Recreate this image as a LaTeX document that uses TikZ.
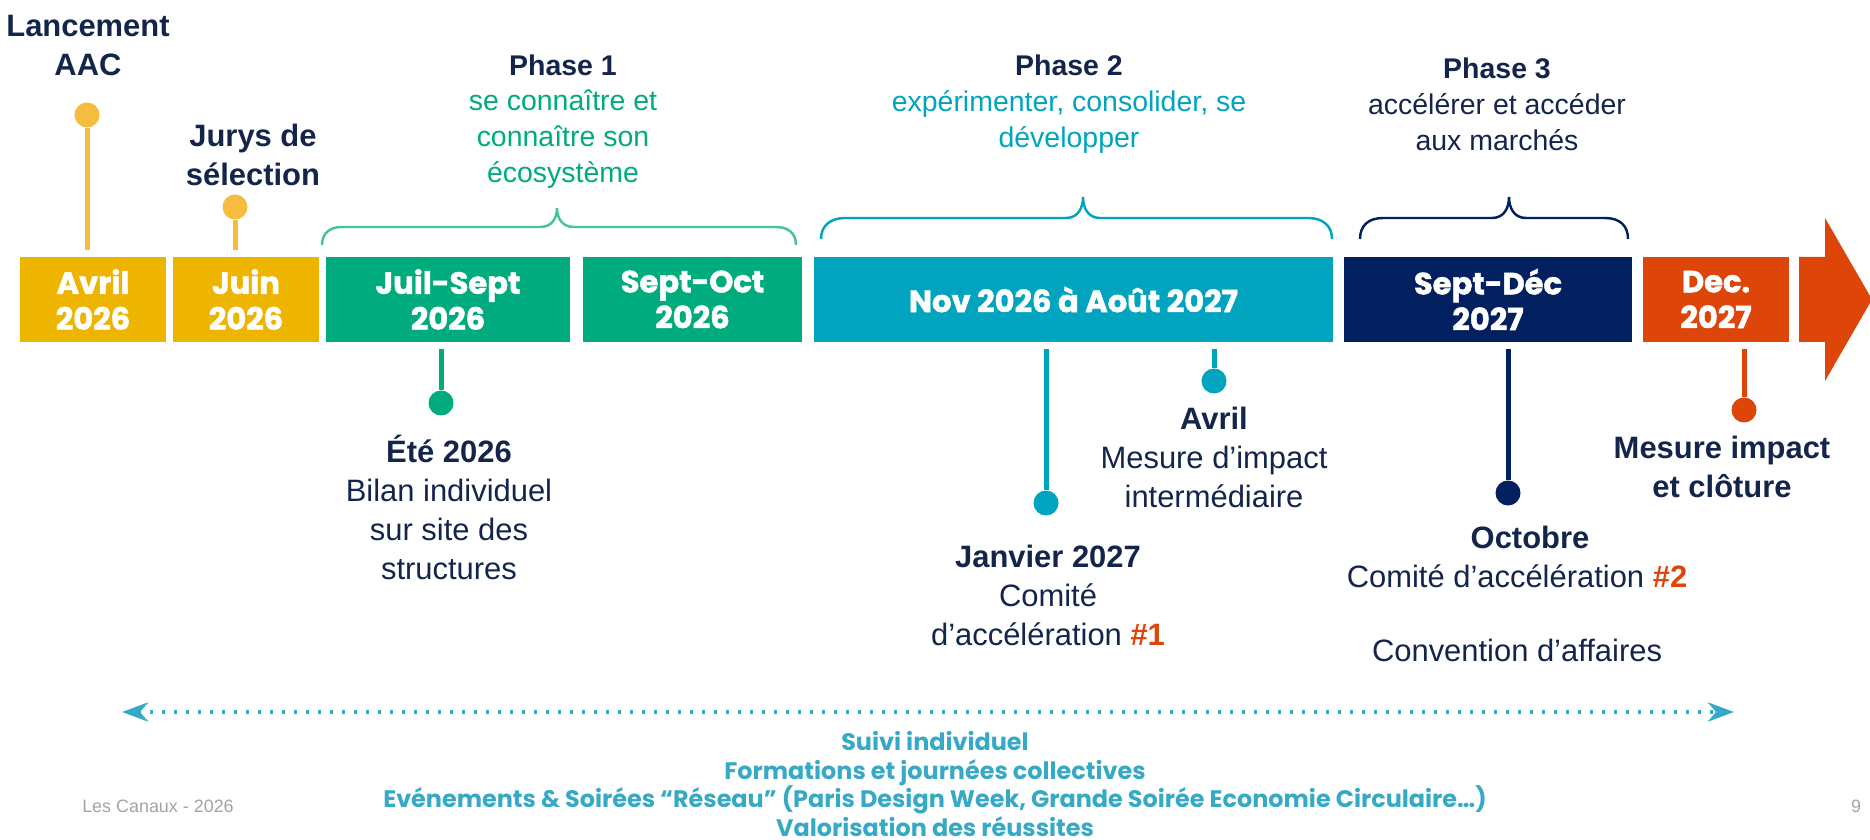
\documentclass[tikz,border=0pt]{standalone}
\usepackage{fontspec}
\setmainfont{Liberation Sans}
\newfontfamily\boxfont{Poppins}
\newfontfamily\heavyfont{Poppins}[BoldFeatures={FakeBold=1.6}]
\usepackage{tikz}
\usetikzlibrary{arrows.meta, positioning, calc}

\definecolor{jaune}{HTML}{EDB400}
\definecolor{jaunepin}{HTML}{F6BC40}
\definecolor{vert}{HTML}{00AC7E}
\definecolor{vertclair}{HTML}{45C596}
\definecolor{canard}{HTML}{00A4BF}
\definecolor{marine}{HTML}{02205F}
\definecolor{orangec}{HTML}{DD4509}
\definecolor{texte}{HTML}{14254C}
\definecolor{suivi}{HTML}{36A9C6}
\definecolor{gris}{HTML}{A3A3A3}

\begin{document}
\begin{tikzpicture}[x=0.1mm,y=-0.1mm,
    datebox/.style={inner sep=0, minimum height=8.5mm, text=white, align=center, font=\heavyfont\bfseries\fontsize{8.7}{10.2}\selectfont},
    pastille/.style={circle, inner sep=0, minimum size=2.5mm},
    tige/.style={line width=0.5mm},
    jalon/.style={text=texte, align=center, inner sep=0, font=\fontsize{8.8}{11.1}\selectfont},
    phase/.style={align=center, inner sep=0, font=\fontsize{8.1}{10.2}\selectfont},
    accol/.style={line width=0.7pt}]
    \useasboundingbox (0,0) rectangle (1870,840);

    % Frise des dates
    \node[datebox, fill=jaune, minimum width=14.6mm] (avril) at (93,299.5) {Avril\\2026};
    \node[datebox, fill=jaune, minimum width=14.6mm] (juin) at (246,299.5) {Juin\\2026};
    \node[datebox, fill=vert, minimum width=24.4mm] (juilsept) at (448,299.5) {Juil-Sept\\2026};
    \node[datebox, fill=vert, minimum width=21.9mm] (septoct) at (692.5,299.5) {Sept-Oct\\2026};
    \node[datebox, fill=canard, minimum width=51.9mm] (nov) at (1073.5,299.5) {Nov 2026 à Août 2027};
    \node[datebox, fill=marine, minimum width=28.8mm] (septdec) at (1488,299.5) {Sept-Déc\\2027};
    \node[datebox, fill=orangec, minimum width=14.6mm] (dec) at (1716,299.5) {Dec.\\2027};
    \fill[orangec] (1799,257) -- (1825,257) -- (1825,218) -- (1872,299.5) -- (1825,381) -- (1825,342) -- (1799,342) -- cycle;

    % Phases et accolades
    \node[phase] (phase1) at (563,121.5) {\textcolor{texte}{\bfseries Phase 1}\\\textcolor{vert}{se connaître et}\\\textcolor{vert}{connaître son}\\\textcolor{vert}{écosystème}};
    \node[phase] (phase2) at (1069,104) {\textcolor{texte}{\bfseries Phase 2}\\\textcolor{canard}{expérimenter, consolider, se}\\\textcolor{canard}{développer}};
    \node[phase, text=texte] (phase3) at (1497,104) {\bfseries Phase 3\\accélérer et accéder\\aux marchés};
    \draw[accol, vertclair] (322,245) .. controls (322,233) and (330,227) .. (342,227) -- (540,227) .. controls (552,227) and (557,218) .. (557,208) .. controls (557,218) and (562,227) .. (574,227) -- (776,227) .. controls (788,227) and (796,233) .. (796,245);
    \draw[accol, canard] (821,239) .. controls (821,226) and (830,218) .. (845,218) -- (1066,218) .. controls (1078,218) and (1083,208) .. (1083,197) .. controls (1083,208) and (1088,218) .. (1100,218) -- (1308,218) .. controls (1323,218) and (1332,226) .. (1332,239);
    \draw[accol, marine] (1360,239) .. controls (1360,226) and (1368,218) .. (1383,218) -- (1492,218) .. controls (1504,218) and (1509,208) .. (1509,197) .. controls (1509,208) and (1514,218) .. (1526,218) -- (1605,218) .. controls (1620,218) and (1628,226) .. (1628,239);

    % Jalons au-dessus
    \node[pastille, fill=jaunepin] (ptlancement) at (87,115) {};
    \node[pastille, fill=jaunepin] (ptjurys) at (235,207) {};
    \draw[tige, jaunepin, shorten >=0.6mm] (ptlancement) -- (ptlancement |- avril.north);
    \draw[tige, jaunepin, shorten >=0.6mm] (ptjurys) -- (ptjurys |- juin.north);
    \node[jalon] (txtlancement) at (88,46) {\bfseries Lancement\\\bfseries AAC};
    \node[jalon] (txtjurys) at (253,155) {\bfseries Jurys de\\\bfseries sélection};

    % Jalons au-dessous
    \node[pastille, fill=vert] (ptete) at (441,403) {};
    \node[pastille, fill=canard] (ptjanvier) at (1046,503) {};
    \node[pastille, fill=canard] (ptavril) at (1214,381) {};
    \node[pastille, fill=marine] (ptoctobre) at (1508,493) {};
    \node[pastille, fill=orangec] (ptcloture) at (1744,410) {};
    \draw[tige, vert, shorten >=0.6mm] (ptete) -- (ptete |- juilsept.south);
    \draw[tige, canard, shorten >=0.6mm] (ptjanvier) -- (ptjanvier |- nov.south);
    \draw[tige, canard, shorten >=0.6mm] (ptavril) -- (ptavril |- nov.south);
    \draw[tige, marine, shorten >=0.6mm] (ptoctobre) -- (ptoctobre |- septdec.south);
    \draw[tige, orangec, shorten >=0.6mm] (ptcloture) -- (ptcloture |- dec.south);

    \node[jalon] (txtete) at (449,507) {\bfseries Été 2026\\Bilan individuel\\sur site des\\structures};
    \node[jalon] (txtjanvier) at (1048,595) {\bfseries Janvier 2027\\Comité\\d’accélération \textcolor{orangec}{\bfseries\#1}};
    \node[jalon] (txtavril) at (1214,457.5) {\bfseries Avril\\Mesure d’impact\\intermédiaire};
    \node[jalon] (txtoctobre) at (1517,594) {\hspace*{2.6mm}\bfseries Octobre\\Comité d’accélération \textcolor{orangec}{\bfseries\#2}\\[3.5mm]Convention d’affaires};
    \node[jalon] (txtcloture) at (1722,466.5) {\bfseries Mesure impact\\\bfseries et clôture};

    % Accompagnement continu
    \coordinate (suivig) at (122,712);
    \coordinate (suivid) at (1734,712);
    \draw[suivi, line width=0.45mm, dash pattern=on 0.3mm off 0.9mm, {Stealth[length=2.6mm,width=1.9mm,inset=0.8mm]}-{Stealth[length=2.6mm,width=1.9mm,inset=0.8mm]}] (suivig) -- (suivid);
    \node[align=center, inner sep=0, text=suivi, font=\boxfont\bfseries\fontsize{6.8}{8.2}\selectfont] (txtsuivi) at (935,784) {Suivi individuel\\Formations et journées collectives\\Evénements \& Soirées “Réseau” (Paris Design Week, Grande Soirée Economie Circulaire…)\\Valorisation des réussites};

    % Pied de page
    \node[text=gris, inner sep=0, font=\fontsize{5.1}{6}\selectfont] (pied) at (158,806) {Les Canaux - 2026};
    \node[text=gris, inner sep=0, font=\fontsize{5.1}{6}\selectfont] (page) at (1856,806) {9};
\end{tikzpicture}
\end{document}
